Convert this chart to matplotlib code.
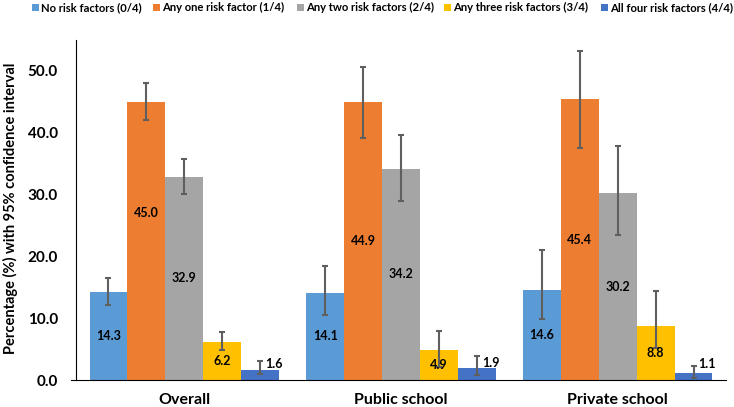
"""Grouped bar chart: number of risk factors by school type, with 95% CI."""

import matplotlib

matplotlib.use("Agg")
import matplotlib.pyplot as plt
from matplotlib.patches import Rectangle
import numpy as np

GROUPS = ["Overall", "Public school", "Private school"]
SERIES = [
    "No risk factors (0/4)",
    "Any one risk factor (1/4)",
    "Any two risk factors (2/4)",
    "Any three risk factors (3/4)",
    "All four risk factors (4/4)",
]
COLORS = ["#5B9BD5", "#ED7D31", "#A5A5A5", "#FFC000", "#4472C4"]

# values[series][group]
VALUES = [
    [14.3, 14.1, 14.6],
    [45.0, 44.9, 45.4],
    [32.9, 34.2, 30.2],
    [6.2, 4.9, 8.8],
    [1.6, 1.9, 1.1],
]
CI_LOW = [
    [12.2, 10.5, 9.8],
    [42.0, 39.2, 37.6],
    [30.1, 28.9, 23.4],
    [4.8, 2.1, 5.2],
    [0.9, 0.8, 0.4],
]
CI_HIGH = [
    [16.5, 18.4, 21.1],
    [48.0, 50.6, 53.2],
    [35.7, 39.7, 37.9],
    [7.8, 7.9, 14.4],
    [3.1, 3.9, 2.2],
]

W, H = 734, 407
plt.rcParams["font.family"] = ["Lato", "DejaVu Sans"]

fig = plt.figure(figsize=(W / 100, H / 100), dpi=100)
ax = fig.add_axes([76 / W, 1 - 380 / H, 650 / W, 340 / H])

x = np.arange(len(GROUPS))
width = 0.175

for i, (name, color) in enumerate(zip(SERIES, COLORS)):
    vals = np.array(VALUES[i])
    lo = vals - np.array(CI_LOW[i])
    hi = np.array(CI_HIGH[i]) - vals
    pos = x + (i - 2) * width
    ax.bar(pos, vals, width=width, color=color, label=name, zorder=2)
    ax.errorbar(pos, vals, yerr=[lo, hi], fmt="none", ecolor="#5f5f5f",
                elinewidth=1.5, capsize=2.4, capthick=1.5, zorder=3)
    for j, (px, v) in enumerate(zip(pos, vals)):
        if i == 4:
            # small bars: label sits beside the error bar, above the bar
            ax.text(px + width * 0.36, max(v + 0.9, 2.6), f"{v:.1f}", ha="center",
                    va="center", fontsize=9, fontweight="bold", zorder=4)
        else:
            ty = v / 2
            if i == 1 and j == 0:
                ty = 27.0
            ax.text(px, ty, f"{v:.1f}", ha="center", va="center",
                    fontsize=9, fontweight="bold", zorder=4)

ax.set_xlim(-0.5, 2.5)
ax.set_ylim(0, 55)
ax.set_yticks(np.arange(0, 51, 10))
ax.set_yticklabels([f"{t:.1f}" for t in np.arange(0, 51, 10)])
ax.set_xticks(x)
ax.set_xticklabels(GROUPS)
ax.tick_params(axis="y", length=0, labelsize=11, pad=13)
ax.tick_params(axis="x", length=0, labelsize=11.5, pad=9)
for lab in ax.get_xticklabels() + ax.get_yticklabels():
    lab.set_fontweight("bold")
ax.spines["top"].set_visible(False)
ax.spines["right"].set_visible(False)
ax.spines["left"].set_color("black")
ax.spines["bottom"].set_color("black")
# x axis line pokes slightly left of the y axis
ax.plot([-0.008, 0], [0, 0], transform=ax.transAxes, color="black",
        linewidth=0.8, clip_on=False)

fig.text(10 / W, 0.5 * (1 - 380 / H) + 0.5 * (1 - 40 / H) + 0.005,
         "Percentage (%) with 95% confidence interval", rotation=90,
         ha="center", va="center", fontsize=10.5, fontweight="bold")

# legend across the top, one row
leg_x = [32, 153, 297, 444, 601]
leg_y = 1 - 7.5 / H
for lx, name, color in zip(leg_x, SERIES, COLORS):
    fig.patches.append(Rectangle((lx / W, leg_y - 3.5 / H), 7 / W, 7 / H,
                                 transform=fig.transFigure, facecolor=color,
                                 edgecolor="none"))
    fig.text((lx + 9) / W, leg_y, name, ha="left", va="center",
             fontsize=8.1, fontweight="bold")

fig.savefig("out.png", dpi=100)
